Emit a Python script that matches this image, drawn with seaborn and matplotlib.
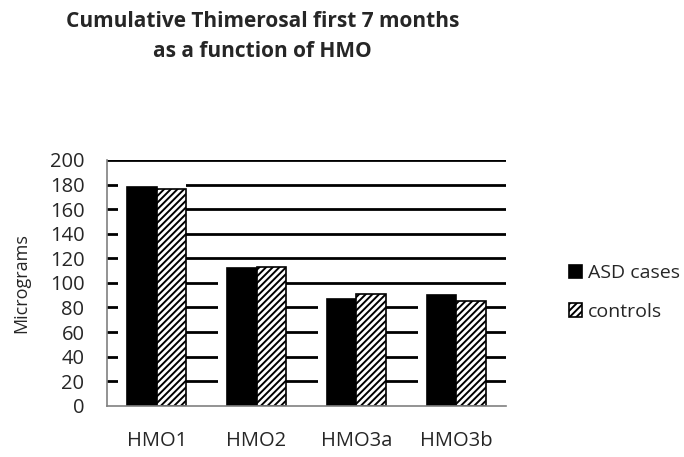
import matplotlib
matplotlib.use("Agg")
import matplotlib.pyplot as plt
from matplotlib.patches import Rectangle
import seaborn as sns
import pandas as pd

categories = ["HMO1", "HMO2", "HMO3a", "HMO3b"]
asd_cases = [178, 112, 87, 90]
controls = [176, 113, 91, 85]
groups = ["ASD cases", "controls"]
y_ticks = list(range(0, 201, 20))

df = pd.DataFrame({
    "hmo": categories * 2,
    "group": [groups[0]] * 4 + [groups[1]] * 4,
    "value": asd_cases + controls,
})

sns.set_style("white")
plt.rcParams["font.family"] = ["Open Sans", "DejaVu Sans"]
plt.rcParams["hatch.color"] = "#444444"
plt.rcParams["hatch.linewidth"] = 1.4

fig = plt.figure(figsize=(6.84, 4.57), dpi=100)
ax = fig.add_axes([0.156, 0.112, 0.584, 0.538])

sns.barplot(data=df, x="hmo", y="value", hue="group", order=categories,
            hue_order=groups, palette=["black", "white"], width=0.59,
            edgecolor="black", linewidth=1.2, saturation=1, legend=False,
            ax=ax, zorder=3)

for bar in ax.containers[1]:
    bar.set_hatch("/////")

# thick black gridlines
for y in y_ticks[1:]:
    ax.axhline(y, color="black", lw=2, zorder=1)

# white glow left of / above each bar group (hides the gridlines there)
for b1, b2 in zip(ax.containers[0], ax.containers[1]):
    x0 = b1.get_x() - 0.09
    top = max(b1.get_height(), b2.get_height()) + 4
    ax.add_patch(Rectangle((x0, 0), b2.get_x() + b2.get_width() - x0, top,
                           facecolor="white", edgecolor="none", zorder=2))

ax.set_ylim(0, 200)
ax.set_xlim(-0.5, 3.5)
ax.set_yticks(y_ticks)
ax.tick_params(axis="y", labelsize=14.5, length=0, pad=16)
ax.tick_params(axis="x", labelsize=14.5, length=0, pad=18)
ax.set_xlabel("")
ax.set_ylabel("Micrograms", fontsize=13, labelpad=14)

for side in ["top", "right"]:
    ax.spines[side].set_visible(False)
for side in ["left", "bottom"]:
    ax.spines[side].set_color("#808080")
    ax.spines[side].set_linewidth(1.2)
    ax.spines[side].set_zorder(4)

fig.text(0.384, 0.975, "Cumulative Thimerosal first 7 months\nas a function of HMO",
         ha="center", va="top", fontsize=15, fontweight="bold", linespacing=1.55)

fig.legend(ax.containers, groups, loc="center left", bbox_to_anchor=(0.806, 0.36),
           frameon=False, fontsize=14, labelspacing=1.05, handlelength=0.7,
           handleheight=0.7, handletextpad=0.3)

fig.savefig("out.png", dpi=100)
